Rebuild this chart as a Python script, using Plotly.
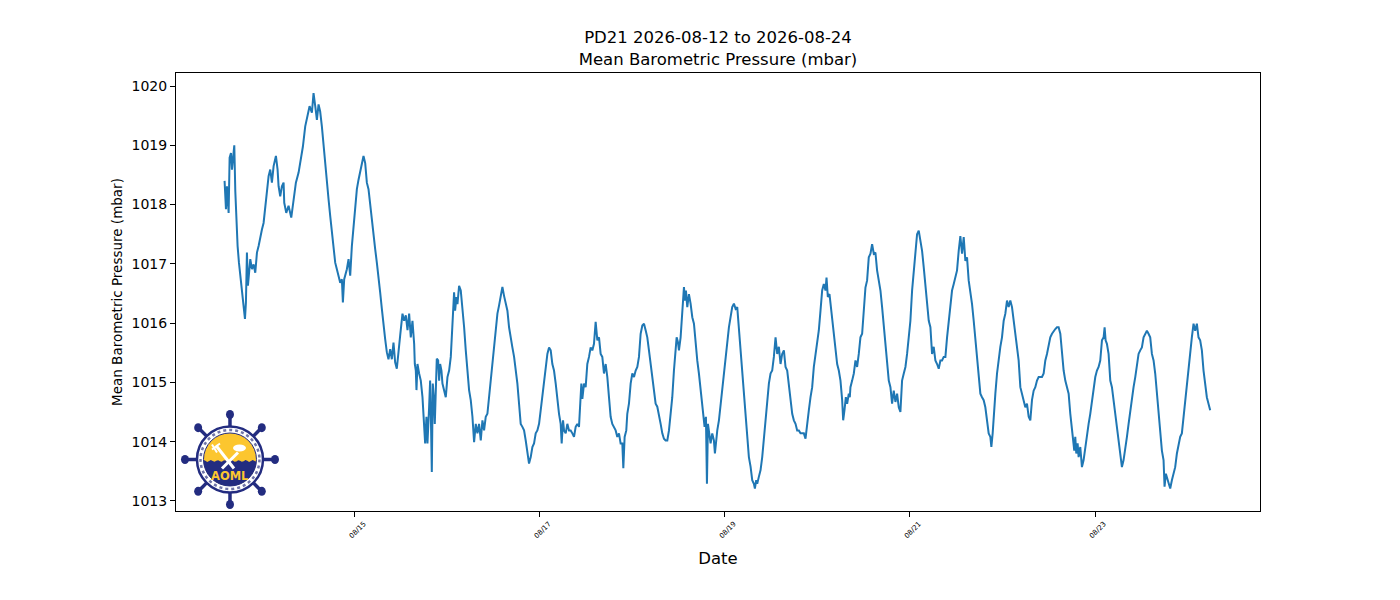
import numpy as np
import pandas as pd
import plotly.graph_objects as go

# hours since 2026-08-13 00:00 and mean barometric pressure (mbar)
HOURS = [
    14.2, 14.56, 14.82, 15.25, 15.51, 15.86, 16.12, 16.38, 16.72, 16.98,
    17.24, 17.58, 17.93, 18.28, 18.71, 19.14, 19.49, 19.74, 20.0, 20.26,
    20.52, 20.87, 21.3, 21.73, 22.16, 22.6, 23.03, 23.46, 23.89, 24.32,
    24.76, 25.19, 25.62, 26.05, 26.48, 26.92, 27.52, 27.95, 28.21, 28.64,
    29.08, 29.51, 29.68, 30.2, 30.8, 31.5, 32.1, 32.7, 33.4, 33.83,
    34.52, 35.12, 35.73, 36.25, 36.85, 37.28, 37.72, 38.15, 38.58, 39.0,
    39.44, 39.88, 40.31, 40.74, 41.17, 41.6, 42.04, 42.47, 42.9, 43.33,
    43.76, 44.2, 44.63, 44.89, 45.23, 45.92, 46.36, 46.79, 47.22, 47.65,
    48.08, 48.52, 48.95, 49.38, 49.81, 50.24, 50.68, 51.11, 51.54, 51.97,
    52.4, 52.84, 53.27, 53.7, 54.13, 54.56, 55.0, 55.43, 55.86, 56.29,
    56.72, 57.16, 57.59, 58.02, 58.45, 58.88, 59.32, 59.75,
    60.35, 60.78, 61.22, 61.65, 62.08, 62.51, 62.94, 63.38, 63.55, 63.81,
    63.98, 64.24, 64.67, 65.1, 65.54, 65.97, 66.23, 66.57, 66.83, 67.26,
    67.52, 67.78, 67.96, 68.21, 68.47, 68.73, 68.99, 69.25, 69.6, 69.86,
    70.12, 70.46, 70.72, 71.15, 71.58, 72.02, 72.45, 72.88, 73.14, 73.48,
    73.74, 74.0, 74.35, 74.61, 75.04, 75.47, 75.9, 76.34, 76.77, 77.2,
    77.63, 78.06, 78.5, 78.93, 79.36, 79.79, 80.22, 80.66, 81.09, 81.52,
    81.95, 82.38, 82.82, 83.25, 83.68, 84.11, 84.54, 84.98, 85.41, 85.84,
    86.27, 86.7, 87.14, 87.57, 88.0, 88.43, 88.86, 89.3, 89.73, 90.16,
    90.59, 91.02, 91.46, 91.89, 92.32, 92.75, 93.18, 93.62, 94.05, 94.48,
    94.91, 95.34, 95.78, 96.21, 96.64, 97.07, 97.5, 97.94, 98.37, 98.8,
    99.23, 99.66, 100.1, 100.53, 100.96, 101.39, 101.65, 102.0, 102.26, 102.69,
    103.12, 103.55, 103.98, 104.42, 104.85, 105.28, 105.71, 106.14, 106.58, 106.75,
    107.01, 107.44, 107.87, 108.3, 108.74, 109.17, 109.6, 110.03, 110.46, 110.9,
    111.33, 111.76, 112.19, 112.62, 113.06, 113.49, 113.92, 114.35, 114.78, 115.22,
    115.65, 116.08, 116.51, 116.94, 117.38, 117.64, 117.98, 118.41, 118.67, 119.1,
    119.54, 119.97, 120.41, 120.84, 121.27, 121.7, 122.13, 122.57, 123.0, 123.43,
    123.86, 124.29, 124.73, 125.16, 125.59, 126.02, 126.45, 126.89, 127.32, 127.75,
    128.18, 128.61, 129.05, 129.48, 129.91, 130.34, 130.77, 131.21, 131.47, 131.81,
    132.07, 132.5, 132.76, 133.02, 133.37, 133.63, 133.88, 134.23, 134.66, 135.09,
    135.53, 135.96, 136.39, 136.82, 137.25, 137.69, 138.12, 138.38, 138.72, 139.07,
    139.33, 139.59, 139.93, 140.28, 140.71, 141.14, 141.4, 141.75, 142.01, 142.44,
    142.87, 143.3, 143.73, 144.17, 144.6, 145.03, 145.46, 145.89, 146.33, 146.76,
    147.19, 147.62, 148.05, 148.49, 148.92, 149.35, 149.78, 150.21, 150.65, 151.08,
    151.51, 151.77, 152.11, 152.37, 152.81, 153.24, 153.67, 154.1, 154.53, 154.97,
    155.4, 155.83, 156.26, 156.69, 157.13, 157.56, 157.99, 158.42, 158.85, 159.29,
    159.72, 160.15, 160.58, 161.01, 161.45, 161.88, 162.31, 162.74, 163.17, 163.61,
    164.04, 164.47, 164.9, 165.33, 165.77, 166.2, 166.63, 167.06, 167.49, 167.93,
    168.36, 168.79, 169.22, 169.65, 170.09, 170.35, 170.69, 171.12, 171.38, 171.81,
    172.25, 172.68, 173.11, 173.54, 173.97, 174.41, 174.67, 175.01, 175.36, 175.7,
    176.13, 176.39, 176.56, 177.0, 177.43, 177.86, 178.29, 178.72, 179.15, 179.59,
    180.02, 180.45, 180.88, 181.31, 181.75, 182.18, 182.61, 183.04, 183.47, 183.91,
    184.34, 184.77, 185.2, 185.63, 186.07, 186.5, 186.93, 187.36, 187.79, 188.23,
    188.66, 189.09, 189.52, 189.95, 190.39, 190.82, 191.25, 191.68, 192.11, 192.55,
    192.98, 193.41, 193.84, 194.27, 194.71, 195.14, 195.57, 196.0, 196.43, 196.87,
    197.3, 197.73, 198.16, 198.59, 199.03, 199.46, 199.89, 200.32, 200.75, 201.19,
    201.62, 202.05, 202.48, 202.91, 203.35, 203.78, 204.21, 204.64, 205.07, 205.51,
    205.94, 206.37, 206.8, 207.23, 207.67, 208.1, 208.53, 208.96, 209.39, 209.83,
    210.26, 210.69, 211.12, 211.55, 211.99, 212.42, 212.85, 213.11, 213.45, 213.71,
    214.15, 214.58, 215.01, 215.44, 215.87, 216.31, 216.74, 217.17, 217.6, 218.03,
    218.47, 218.9, 219.33, 219.76, 220.19, 220.63, 221.06, 221.49, 221.92, 222.35,
    222.79, 223.22, 223.65, 224.08, 224.51, 224.95, 225.38,
    225.81, 226.24, 226.68, 227.11, 227.54, 227.97, 228.4, 228.84, 229.27, 229.7,
    230.13, 230.56, 231.0, 231.43, 231.86, 232.29, 232.72, 233.16, 233.59, 234.02,
    234.28, 234.62, 234.88, 235.14, 235.49, 235.75, 236.18, 236.61, 237.04, 237.48,
    237.91, 238.34, 238.77, 239.2, 239.64, 240.07, 240.5, 240.93, 241.36, 241.8,
    242.23, 242.49, 242.75, 243.09, 243.52, 243.96, 244.39, 244.82, 245.25, 245.68,
    246.12, 246.55, 246.98, 247.41, 247.84, 248.28, 248.71, 249.14, 249.57, 250.0,
    250.44, 250.87, 251.3, 251.73, 252.16, 252.6, 253.03, 253.46, 253.89, 254.32,
    254.76, 255.19, 255.62, 256.05, 256.48, 256.92, 257.35, 257.78, 258.04, 258.38,
    258.64, 259.08, 259.51, 259.94, 260.37, 260.8, 261.24, 261.67, 262.1, 262.53,
    262.96, 263.4, 263.83, 264.26, 264.69, 265.12, 265.56, 265.99, 266.42, 266.85,
    267.28, 267.72, 268.15, 268.58, 269.01, 269.44, 269.88,
]

MBAR = [
    1018.40, 1017.92, 1018.31, 1017.86, 1018.79, 1018.87, 1018.59, 1018.82, 1019.00, 1018.23,
    1017.64, 1017.30, 1017.02, 1016.80, 1016.52, 1016.35, 1016.07, 1016.35, 1017.19, 1016.63,
    1016.91, 1017.08, 1016.91, 1016.99, 1016.85, 1017.19, 1017.30, 1017.47, 1017.58, 1017.69,
    1017.98, 1018.14, 1018.48, 1018.59, 1018.37, 1018.65, 1018.82, 1018.59, 1018.31, 1018.14,
    1018.31, 1018.37, 1018.03, 1017.86, 1017.98, 1017.78, 1018.09, 1018.37, 1018.54, 1018.70,
    1018.98, 1019.32, 1019.49, 1019.66, 1019.55, 1019.88, 1019.66, 1019.43, 1019.69, 1019.57,
    1019.32, 1018.98, 1018.70, 1018.42, 1018.09, 1017.81, 1017.53, 1017.25, 1017.02, 1016.91,
    1016.80, 1016.68, 1016.74, 1016.35, 1016.74, 1016.91, 1017.08, 1016.80, 1017.30, 1017.64,
    1017.98, 1018.26, 1018.42, 1018.54, 1018.70, 1018.82, 1018.70, 1018.37, 1018.26, 1017.98,
    1017.75, 1017.41, 1017.25, 1017.02, 1016.80, 1016.52, 1016.24, 1015.95, 1015.73, 1015.51,
    1015.39, 1015.56, 1015.39, 1015.67, 1015.34, 1015.23, 1015.56, 1015.79,
    1016.16, 1016.04, 1016.13, 1015.88, 1016.16, 1015.76, 1016.04, 1015.65, 1015.31, 1015.20,
    1014.87, 1015.31, 1015.15, 1015.03, 1014.75, 1014.30, 1013.97, 1014.42, 1013.97, 1014.58,
    1015.03, 1014.19, 1013.49, 1014.98, 1014.75, 1014.30, 1014.75, 1015.40, 1015.37, 1015.03,
    1015.31, 1015.20, 1014.98, 1014.87, 1014.75, 1015.09, 1015.20, 1015.43, 1015.71, 1016.21,
    1016.52, 1016.21, 1016.44, 1016.32, 1016.63, 1016.55, 1016.27, 1015.93, 1015.54, 1015.20,
    1014.87, 1014.70, 1014.42, 1013.99, 1014.30, 1014.14, 1014.30, 1014.02, 1014.36, 1014.19,
    1014.42, 1014.47, 1014.75, 1015.03, 1015.31, 1015.59, 1015.88, 1016.16, 1016.30, 1016.44,
    1016.61, 1016.46, 1016.30, 1016.21, 1015.93, 1015.71, 1015.59, 1015.43, 1015.20, 1014.98,
    1014.64, 1014.30, 1014.25, 1014.19, 1014.02, 1013.86, 1013.63, 1013.74, 1013.91, 1013.97,
    1014.14, 1014.19, 1014.30, 1014.53, 1014.75, 1014.98, 1015.26, 1015.48, 1015.59, 1015.54,
    1015.31, 1015.20, 1014.98, 1014.70, 1014.47, 1014.30, 1013.97, 1014.36, 1014.19, 1014.14,
    1014.30, 1014.19, 1014.19, 1014.14, 1014.08, 1014.25, 1014.30, 1014.25, 1014.75, 1014.98,
    1014.72, 1014.98, 1014.92, 1015.31, 1015.43, 1015.59, 1015.54, 1015.65, 1016.02, 1015.71,
    1015.76, 1015.48, 1015.43, 1015.15, 1015.31, 1015.09, 1014.75, 1014.42, 1014.30, 1014.25,
    1014.19, 1014.08, 1014.14, 1013.97, 1013.97, 1013.55, 1014.08, 1014.19, 1014.47, 1014.64,
    1014.98, 1015.15, 1015.09, 1015.20, 1015.26, 1015.43, 1015.82, 1015.96, 1015.99, 1015.88,
    1015.76, 1015.54, 1015.31, 1015.09, 1014.86, 1014.64, 1014.59, 1014.47, 1014.30, 1014.14,
    1014.05, 1014.02, 1014.02, 1014.19, 1014.47, 1014.75, 1015.20, 1015.48, 1015.76, 1015.68,
    1015.54, 1015.76, 1015.99, 1016.33, 1016.61, 1016.38, 1016.55, 1016.27, 1016.49, 1016.33,
    1016.10, 1015.99, 1015.65, 1015.37, 1015.15, 1014.86, 1014.53, 1014.47, 1014.25, 1014.42,
    1013.29, 1014.30, 1014.08, 1013.97, 1014.14, 1014.02, 1013.80, 1014.08, 1014.19, 1014.36,
    1014.64, 1014.92, 1015.20, 1015.48, 1015.71, 1015.93, 1016.10, 1016.27, 1016.33, 1016.24,
    1016.27, 1015.93, 1015.60, 1015.26, 1014.92, 1014.53, 1014.14, 1013.74, 1013.58, 1013.35,
    1013.29, 1013.21, 1013.35, 1013.29, 1013.41, 1013.52, 1013.74, 1014.08, 1014.42, 1014.70,
    1014.98, 1015.15, 1015.20, 1015.43, 1015.76, 1015.48, 1015.60, 1015.31, 1015.48, 1015.54,
    1015.26, 1015.20, 1014.92, 1014.64, 1014.47, 1014.36, 1014.30, 1014.19, 1014.19, 1014.14,
    1014.14, 1014.14, 1014.05, 1014.25, 1014.53, 1014.75, 1014.92, 1015.26, 1015.48, 1015.65,
    1015.88, 1016.21, 1016.55, 1016.66, 1016.55, 1016.77, 1016.44, 1016.49, 1016.33, 1016.10,
    1015.76, 1015.54, 1015.31, 1015.20, 1015.03, 1014.70, 1014.36, 1014.53, 1014.75, 1014.64,
    1014.81, 1014.75, 1014.92, 1015.03, 1015.15, 1015.37, 1015.26, 1015.48, 1015.76, 1015.82,
    1016.16, 1016.60, 1016.72, 1017.11, 1017.17, 1017.33, 1017.17, 1017.19, 1016.89, 1016.72,
    1016.55, 1016.27, 1015.93, 1015.60, 1015.31, 1015.03, 1014.92, 1014.64, 1014.86, 1014.67,
    1014.81, 1014.58, 1014.50, 1015.03, 1015.15, 1015.26, 1015.48, 1015.71, 1016.04, 1016.55,
    1016.89, 1017.22, 1017.50, 1017.56, 1017.39, 1017.22, 1016.94, 1016.60, 1016.32, 1016.04,
    1015.93, 1015.48, 1015.60, 1015.37, 1015.31, 1015.23, 1015.37, 1015.37, 1015.43, 1015.43,
    1015.76, 1016.04, 1016.38, 1016.55, 1016.66, 1016.77, 1016.89, 1017.22, 1017.47, 1017.17,
    1017.45, 1017.05, 1017.11, 1016.72, 1016.55, 1016.32, 1016.04, 1015.71, 1015.37, 1015.03,
    1014.81, 1014.75, 1014.70, 1014.58, 1014.30, 1014.14, 1014.08, 1013.91, 1014.14, 1014.47,
    1014.81, 1015.15, 1015.43, 1015.60, 1015.76, 1016.04, 1016.16, 1016.38, 1016.27, 1016.38,
    1016.27, 1016.04, 1015.82, 1015.54, 1015.37, 1014.92, 1014.81, 1014.70, 1014.58, 1014.64,
    1014.42, 1014.36, 1014.70, 1014.86, 1014.92, 1015.03, 1015.09,
    1015.09, 1015.09, 1015.15, 1015.37, 1015.48, 1015.65, 1015.76, 1015.82, 1015.87, 1015.90,
    1015.93, 1015.93, 1015.82, 1015.48, 1015.20, 1015.03, 1014.92, 1014.81, 1014.47, 1014.19,
    1014.02, 1013.85, 1014.08, 1013.80, 1013.97, 1013.74, 1013.91, 1013.57, 1013.69, 1013.91,
    1014.14, 1014.30, 1014.47, 1014.70, 1014.92, 1015.09, 1015.20, 1015.26, 1015.37, 1015.71,
    1015.76, 1015.93, 1015.71, 1015.65, 1015.48, 1015.03, 1014.92, 1014.70, 1014.47, 1014.25,
    1014.02, 1013.80, 1013.57, 1013.69, 1013.85, 1014.08, 1014.30, 1014.53, 1014.70, 1014.92,
    1015.09, 1015.31, 1015.48, 1015.54, 1015.59, 1015.76, 1015.82, 1015.87, 1015.82, 1015.76,
    1015.48, 1015.37, 1015.15, 1014.81, 1014.47, 1014.14, 1013.85, 1013.69, 1013.24, 1013.46,
    1013.41, 1013.29, 1013.21, 1013.35, 1013.46, 1013.57, 1013.80, 1013.97, 1014.08, 1014.14,
    1014.42, 1014.70, 1015.03, 1015.26, 1015.54, 1015.76, 1015.99, 1015.87, 1015.99, 1015.76,
    1015.71, 1015.54, 1015.20, 1014.92, 1014.75, 1014.64, 1014.53,
]

TICK_DATES = ["2026-08-15", "2026-08-17", "2026-08-19", "2026-08-21", "2026-08-23"]
TICK_LABELS = ["08/15", "08/17", "08/19", "08/21", "08/23"]

start = pd.Timestamp("2026-08-13")
times = start + pd.to_timedelta(HOURS, unit="h")

fig = go.Figure()
fig.add_trace(go.Scatter(x=times, y=MBAR, mode="lines",
                         line=dict(color="#1f77b4", width=2)))

# AOML logo, drawn with shapes (pixel sized, anchored in the lower left of the axes)
NAVY = "#232c80"
GOLD = "#fcc62f"
CX, CY = 0.0498, 0.1176
shapes = []


def logo_shape(**kw):
    d = dict(xref="paper", yref="paper", xsizemode="pixel", ysizemode="pixel",
             xanchor=CX, yanchor=CY)
    d.update(kw)
    shapes.append(d)


for k in range(8):
    a = k * np.pi / 4
    c, s = np.cos(a), np.sin(a)
    logo_shape(type="line", x0=32 * c, y0=32 * s, x1=43 * c, y1=43 * s,
               line=dict(color=NAVY, width=3.5))
    logo_shape(type="circle", x0=45 * c - 4, x1=45 * c + 4, y0=45 * s - 4.5, y1=45 * s + 4.5,
               fillcolor=NAVY, line=dict(color=NAVY, width=0))

logo_shape(type="circle", x0=-33, x1=33, y0=-33, y1=33,
           fillcolor="white", line=dict(color=NAVY, width=2.5))
# ring of tiny lettering
logo_shape(type="circle", x0=-29.5, x1=29.5, y0=-29.5, y1=29.5,
           line=dict(color="#6f74a8", width=2.5, dash="dot"))
logo_shape(type="circle", x0=-26.5, x1=26.5, y0=-26.5, y1=26.5,
           fillcolor=GOLD, line=dict(color=NAVY, width=1))

# navy sea in the lower half with a wavy surface
arc = np.linspace(-0.05, -np.pi + 0.05, 40)
pts = [(26.5 * np.cos(t), 26.5 * np.sin(t)) for t in arc]
wx = np.linspace(-26.4, 26.4, 30)
pts += [(x, -1.5 + 0.9 * np.sin(x * 0.9)) for x in wx]
path = "M " + " L ".join(f"{x:.2f},{y:.2f}" for x, y in pts) + " Z"
logo_shape(type="path", path=path, fillcolor=NAVY, line=dict(color=NAVY, width=0))

# white trident / cloud emblem
logo_shape(type="line", x0=-14, y0=14, x1=4, y1=-9, line=dict(color="white", width=3))
logo_shape(type="line", x0=8, y0=7, x1=-8, y1=-9, line=dict(color="white", width=3))
logo_shape(type="line", x0=-18, y0=10, x1=-10, y1=16, line=dict(color="white", width=2))
logo_shape(type="line", x0=-13, y0=7, x1=-18, y1=15, line=dict(color="white", width=2))
logo_shape(type="circle", x0=3, x1=16, y0=8, y1=15, fillcolor="white",
           line=dict(color="white", width=0))

fig.update_layout(
    width=1400, height=600,
    margin=dict(l=168, r=148, t=65, b=97),
    paper_bgcolor="white", plot_bgcolor="white",
    font=dict(family="DejaVu Sans", color="black"),
    showlegend=False,
    title=dict(text="PD21 2026-08-12 to 2026-08-24<br>Mean Barometric Pressure (mbar)",
               x=0.5, xref="paper", xanchor="center",
               y=0.941, yref="container", yanchor="middle",
               font=dict(size=16.5)),
    shapes=shapes,
    annotations=[dict(text="<b>AOML</b>", xref="paper", yref="paper", x=CX, y=CY,
                      xanchor="center", yanchor="middle", yshift=-17, showarrow=False,
                      font=dict(size=11.5, color=GOLD, family="DejaVu Sans"))],
)

fig.update_xaxes(
    range=[start + pd.Timedelta(hours=1.6), start + pd.Timedelta(hours=282.8)],
    tickvals=pd.to_datetime(TICK_DATES), ticktext=TICK_LABELS,
    tickangle=-45, tickfont=dict(size=7), ticklabelshift=9,
    ticks="outside", ticklen=5, tickcolor="black",
    showline=True, linecolor="black", linewidth=1, mirror=True,
    showgrid=False, zeroline=False,
    title=dict(text="Date", font=dict(size=16.5), standoff=13),
)
fig.update_yaxes(
    range=[1012.83, 1020.22], tick0=1013, dtick=1,
    tickfont=dict(size=14),
    ticks="outside", ticklen=5, tickcolor="black",
    showline=True, linecolor="black", linewidth=1, mirror=True,
    showgrid=False, zeroline=False,
    title=dict(text="Mean Barometric Pressure (mbar)", font=dict(size=13.5), standoff=5),
)

fig.write_html("out.html")
